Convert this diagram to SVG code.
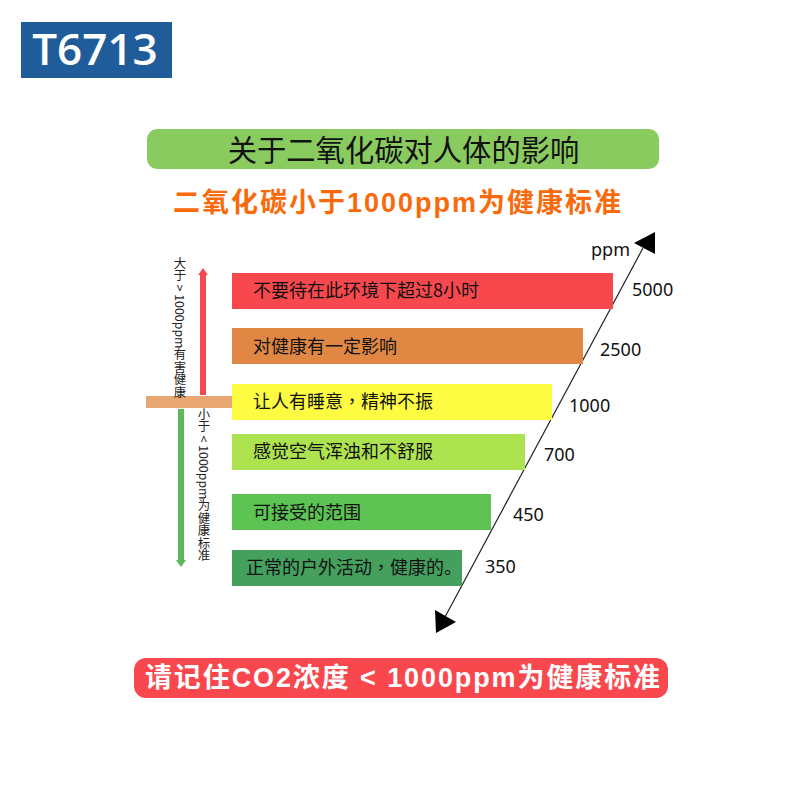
<svg xmlns="http://www.w3.org/2000/svg" width="800" height="800" viewBox="0 0 800 800">
<style>
text{font-family:"Noto Sans CJK SC","Noto Sans",sans-serif;fill:#111}
.bar{font-size:18px}
.tc{font-family:"Noto Sans CJK TC",sans-serif}
.num{font-size:18px;font-family:"Noto Sans","Noto Sans CJK SC",sans-serif}
.v{font-size:12.400px;writing-mode:vertical-rl;fill:#222}
.b{font-weight:700;font-family:"Liberation Sans","Noto Sans CJK SC",sans-serif}
</style>
<rect width="800" height="800" fill="#fff"/>
<g id="badge"><rect x="21" y="22" width="151" height="56" fill="#1f5c99"/><text x="95" y="65" text-anchor="middle" font-size="44" font-weight="600" style="fill:#fff;font-family:'Open Sans','Noto Sans',sans-serif">T6713</text></g>
<g id="title"><rect x="147" y="129" width="512" height="40" rx="10" fill="#8acb5f"/><text x="403.500" y="161" text-anchor="middle" font-size="29.300">关于二氧化碳对人体的影响</text></g>
<g id="subtitle"><text x="398" y="212" text-anchor="middle" font-size="27" letter-spacing="2" class="b" style="fill:#f96a0a">二氧化碳小于1000ppm为健康标准</text></g>
<g id="connectors">
<line x1="643" y1="248" x2="445" y2="617" stroke="#222" stroke-width="1.200"/>
<polygon points="655,232 634,243 655,254" fill="#000"/>
<polygon points="435,610 456,622 436,633" fill="#000"/>
<polygon points="200,395 200,275 198,275 203,268 208,275 206,275 206,395" fill="#f44a4f"/>
<polygon points="178,409 184,409 184,560 186,560 181,567 176,560 178,560" fill="#5cb85a"/>
</g>
<g id="divider"><rect x="146" y="396" width="86" height="12" fill="#e8a673"/></g>
<g id="bar-5000"><rect x="232" y="273" width="381" height="36" fill="#f7484e"/><text x="253" y="297" class="bar">不要待在此环境下超过8小时</text></g>
<g id="bar-2500"><rect x="232" y="328" width="351" height="36" fill="#e08743"/><text x="253" y="353" class="bar">对健康有一定影响</text></g>
<g id="bar-1000"><rect x="232" y="384" width="320" height="36" fill="#fefc42"/><text x="253" y="408" class="bar">让人有睡意<tspan class="tc">，</tspan>精神不振</text></g>
<g id="bar-700"><rect x="232" y="434" width="293" height="36" fill="#aee350"/><text x="253" y="458" class="bar">感觉空气浑浊和不舒服</text></g>
<g id="bar-450"><rect x="232" y="494" width="259" height="36" fill="#5dc454"/><text x="253" y="519" class="bar">可接受的范围</text></g>
<g id="bar-350"><rect x="232" y="550" width="230" height="36" fill="#45a05e"/><text x="246" y="574" class="bar">正常的户外活动<tspan class="tc">，</tspan>健康的。</text></g>
<g id="labels">
<text x="591" y="256" class="num">ppm</text>
<text x="632" y="296" class="num">5000</text>
<text x="600" y="356" class="num">2500</text>
<text x="569" y="412" class="num">1000</text>
<text x="544" y="461" class="num">700</text>
<text x="513" y="521" class="num">450</text>
<text x="485" y="573" class="num">350</text>
<text x="180" y="257" class="v">大于 &gt; 1000ppm有害健康</text>
<text x="204" y="408" class="v">小于 &lt; 1000ppm为健康标准</text>
</g>
<g id="footer"><rect x="134" y="658" width="534" height="40" rx="12" fill="#f9474e"/><text x="403.500" y="687" text-anchor="middle" font-size="27" letter-spacing="1.900" class="b" style="fill:#fff">请记住CO2浓度 &lt; 1000ppm为健康标准</text></g>
</svg>
